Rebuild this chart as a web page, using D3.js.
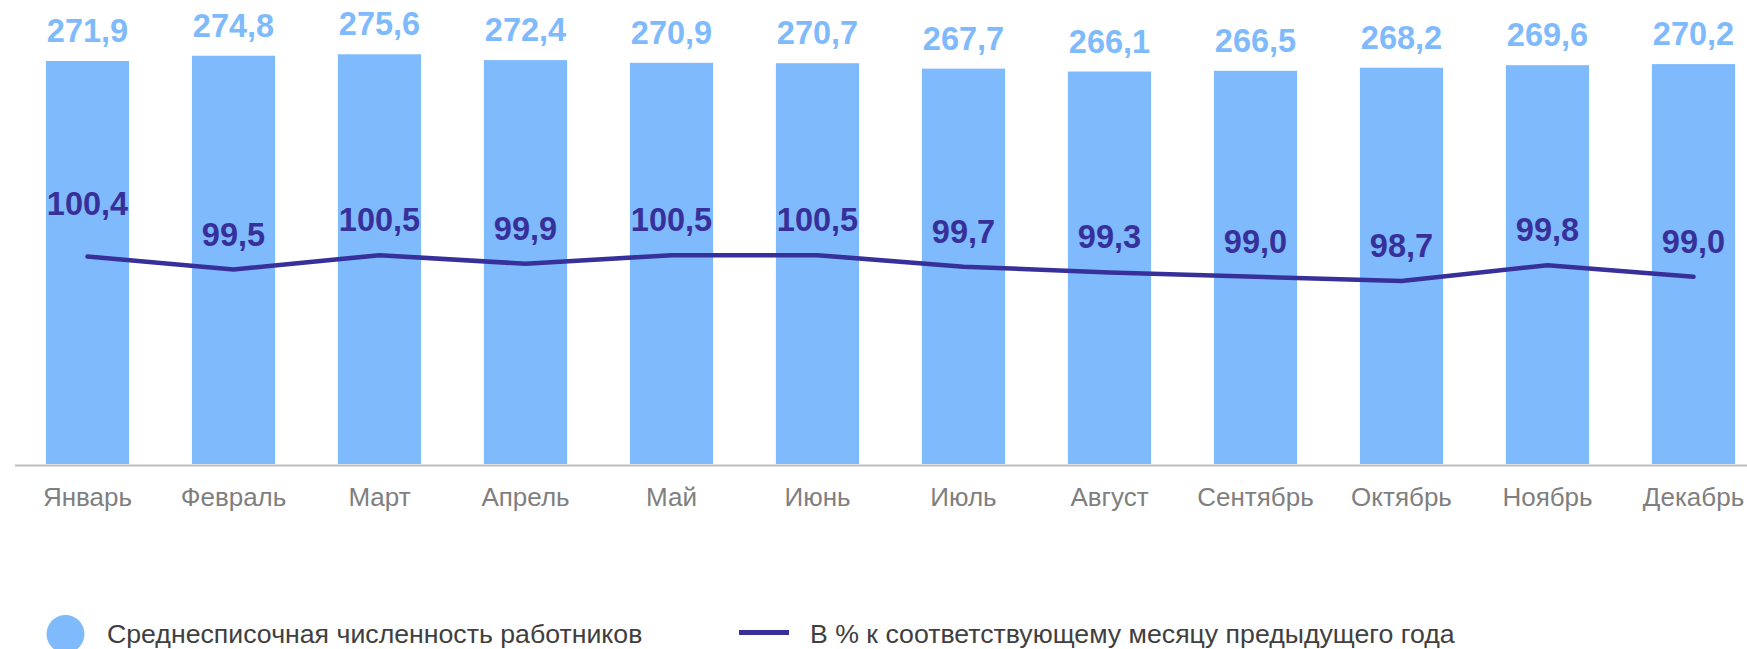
<!DOCTYPE html>
<html>
<head>
<meta charset="utf-8">
<script src="https://cdn.jsdelivr.net/npm/d3@7"></script>
<style>
  body { margin: 0; background: #fff; }
  svg { display: block; font-family: "Liberation Sans", Arial, sans-serif; }
</style>
</head>
<body>
<div id="chart"></div>
<script>
const months = ['Январь', 'Февраль', 'Март', 'Апрель', 'Май', 'Июнь', 'Июль', 'Август', 'Сентябрь', 'Октябрь', 'Ноябрь', 'Декабрь'];
const headcount = [271.9, 274.8, 275.6, 272.4, 270.9, 270.7, 267.7, 266.1, 266.5, 268.2, 269.6, 270.2];
const percentPrevYear = [100.4, 99.5, 100.5, 99.9, 100.5, 100.5, 99.7, 99.3, 99.0, 98.7, 99.8, 99.0];
const legendLabels = ['Среднесписочная численность работников', 'В % к соответствующему месяцу предыдущего года'];

const width = 1747, height = 649;
const barColor = '#7FBAFC';
const lineColor = '#37309A';
const fmt = v => v.toFixed(1).replace('.', ',');

const data = months.map((m, i) => ({ month: m, value: headcount[i], pct: percentPrevYear[i] }));

const svg = d3.select('#chart').append('svg')
    .attr('width', width)
    .attr('height', height);

const plotTop = 46.3, plotBottom = 464;

const x = d3.scaleBand()
    .domain(months)
    .range([14.5, 1766.5])
    .paddingInner(0.43)
    .paddingOuter(0.215);

const yBar = d3.scaleLinear()
    .domain([50, 280])
    .range([plotBottom, plotTop]);

const yLine = d3.scaleLinear()
    .domain([86, 115])
    .range([plotBottom, plotTop]);

// bars
svg.append('g').selectAll('rect')
    .data(data)
    .join('rect')
    .attr('x', d => x(d.month))
    .attr('y', d => yBar(d.value))
    .attr('width', x.bandwidth())
    .attr('height', d => plotBottom - yBar(d.value))
    .attr('fill', barColor);

svg.append('g').selectAll('text')
    .data(data)
    .join('text')
    .attr('x', d => x(d.month) + x.bandwidth() / 2)
    .attr('y', d => yBar(d.value) - 19)
    .attr('text-anchor', 'middle')
    .attr('font-size', 32.5)
    .attr('font-weight', 'bold')
    .attr('fill', barColor)
    .text(d => fmt(d.value));

// x axis
const xAxisG = svg.append('g')
    .attr('transform', `translate(0,${plotBottom + 1})`)
    .call(d3.axisBottom(x).tickSize(0).tickSizeOuter(0));

xAxisG.select('.domain')
    .attr('stroke', '#BFBFBF')
    .attr('stroke-width', 2);

xAxisG.selectAll('text')
    .attr('y', 40.7)
    .attr('dy', null)
    .attr('font-size', 26)
    .attr('font-family', '"Liberation Sans", Arial, sans-serif')
    .attr('fill', '#7F7F7F');

// line
const line = d3.line()
    .x(d => x(d.month) + x.bandwidth() / 2)
    .y(d => yLine(d.pct));

svg.append('path')
    .datum(data)
    .attr('d', line)
    .attr('fill', 'none')
    .attr('stroke', lineColor)
    .attr('stroke-width', 4.5)
    .attr('stroke-linecap', 'round')
    .attr('stroke-linejoin', 'round');

svg.append('g').selectAll('text')
    .data(data)
    .join('text')
    .attr('x', d => x(d.month) + x.bandwidth() / 2)
    .attr('y', (d, i) => yLine(d.pct) - (i === 0 ? 42 : 24))
    .attr('text-anchor', 'middle')
    .attr('font-size', 32.5)
    .attr('font-weight', 'bold')
    .attr('fill', lineColor)
    .text(d => fmt(d.pct));

// legend
const legend = svg.append('g');

legend.append('circle')
    .attr('cx', 65.5)
    .attr('cy', 634)
    .attr('r', 19)
    .attr('fill', barColor);

legend.append('text')
    .attr('x', 107)
    .attr('y', 643.3)
    .attr('font-size', 26.7)
    .attr('fill', '#404040')
    .text(legendLabels[0]);

legend.append('line')
    .attr('x1', 739)
    .attr('x2', 789)
    .attr('y1', 632.5)
    .attr('y2', 632.5)
    .attr('stroke', lineColor)
    .attr('stroke-width', 5);

legend.append('text')
    .attr('x', 810)
    .attr('y', 643.3)
    .attr('font-size', 26.7)
    .attr('fill', '#404040')
    .text(legendLabels[1]);
</script>
</body>
</html>
